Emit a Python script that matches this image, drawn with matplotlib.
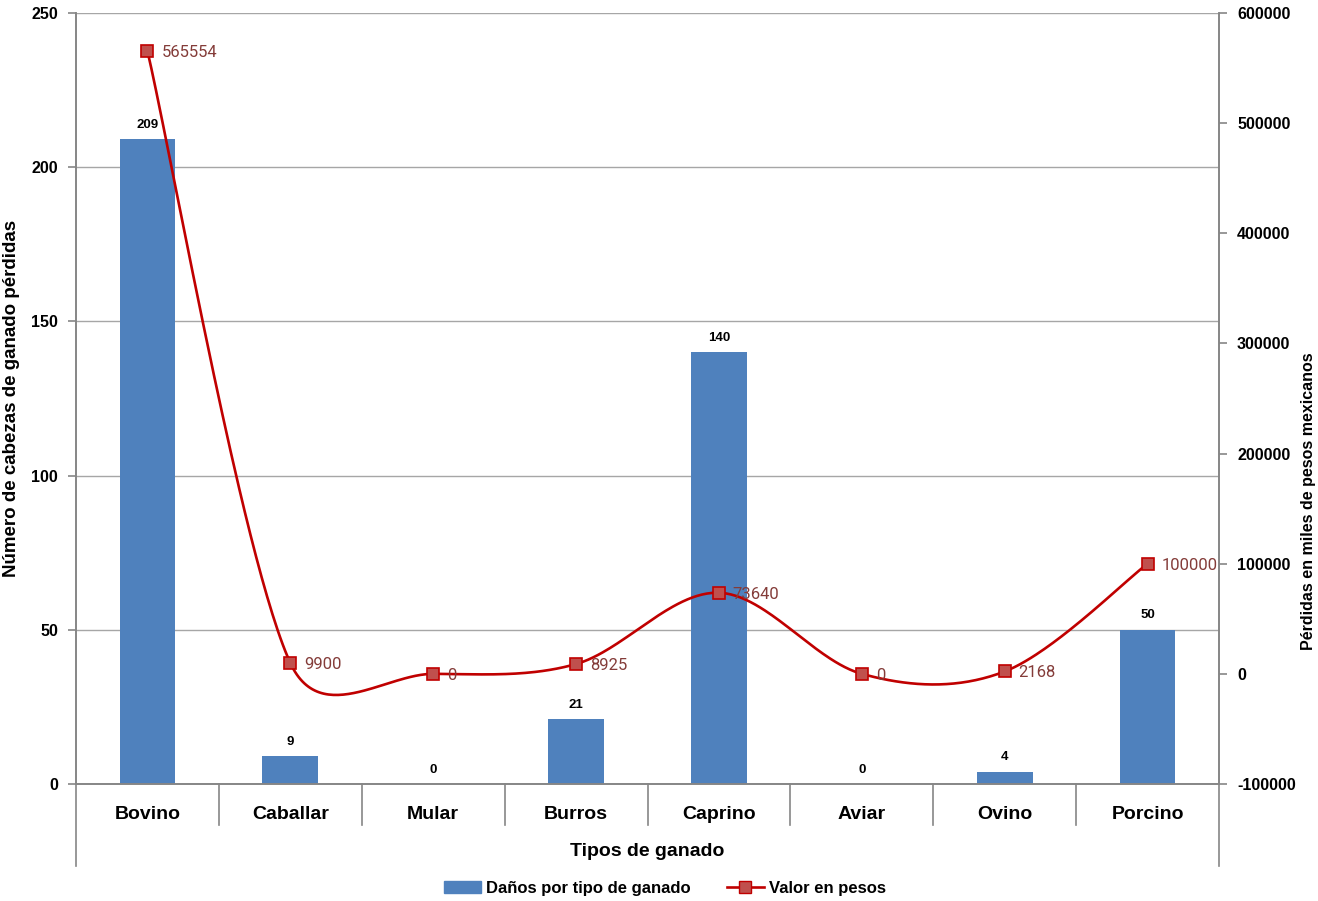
import numpy as np
import matplotlib
matplotlib.use("Agg")
import matplotlib.pyplot as plt
import matplotlib.transforms as mtransforms
from matplotlib.patches import Patch
from matplotlib.lines import Line2D

plt.rcParams['font.family'] = ['Liberation Sans Narrow', 'Liberation Sans', 'DejaVu Sans']
plt.rcParams['axes.unicode_minus'] = False

tipos = ['Bovino', 'Caballar', 'Mular', 'Burros', 'Caprino', 'Aviar', 'Ovino', 'Porcino']
cabezas = [209, 9, 0, 21, 140, 0, 4, 50]
valor_pesos = [565554, 9900, 0, 8925, 73640, 0, 2168, 100000]

BLUE = '#4F81BD'
RED = '#C00000'
GRID = '#A6A6A6'
SPINE = '#868686'

fig = plt.figure(figsize=(13.18, 9.01), dpi=100)
ax = fig.add_axes([76/1318, 117/901, (1219-76)/1318, (784-13)/901])
ax2 = ax.twinx()

x = np.arange(len(tipos))
bars = ax.bar(x, cabezas, width=0.39, color=BLUE, zorder=2)
ax.set_xlim(-0.5, len(tipos) - 0.5)
ax.set_ylim(0, 250)
ax.set_yticks(range(0, 251, 50))
ax.yaxis.grid(True, color=GRID, lw=1)
ax.set_axisbelow(True)
for b, v in zip(bars, cabezas):
    ax.annotate(str(v), (b.get_x() + b.get_width()/2, v), xytext=(0, 6),
                textcoords='offset points', ha='center', va='bottom',
                fontsize=9.5, fontweight='bold')

ax2.set_ylim(-100000, 600000)
ax2.set_yticks(range(-100000, 600001, 100000))

for a in (ax, ax2):
    a.spines['top'].set_visible(False)
    for s in ('left', 'right', 'bottom'):
        a.spines[s].set_color(SPINE)
        a.spines[s].set_linewidth(1.2)
    a.tick_params(axis='y', colors='black', labelsize=11.5, length=6, color=SPINE,
                  width=1.2, pad=7)
    for lbl in a.get_yticklabels():
        lbl.set_fontweight('bold')

ax.set_xticks(x)
ax.set_xticklabels(tipos, fontsize=14, fontweight='bold')
ax.tick_params(axis='x', length=0, pad=16)

# separadores de categoria bajo el eje
trans = mtransforms.blended_transform_factory(ax.transData, ax.transAxes)
for xs in np.arange(0.5, len(tipos) - 0.5):
    ax.plot([xs, xs], [0, -41/771], transform=trans, color=SPINE, lw=1.2, clip_on=False)
for xs in (-0.5, len(tipos) - 0.5):
    ax.plot([xs, xs], [0, -82/771], transform=trans, color=SPINE, lw=1.2, clip_on=False)

# curva suavizada (Bezier tipo Catmull-Rom en coordenadas de pantalla)
fig.canvas.draw()
pts = ax2.transData.transform(np.column_stack([x, valor_pesos]))
n = len(pts)
curve = []
for i in range(n - 1):
    p0 = pts[max(i - 1, 0)]
    p1 = pts[i]
    p2 = pts[i + 1]
    p3 = pts[min(i + 2, n - 1)]
    seg = np.linalg.norm(p2 - p1)
    d1 = (p2 - p0) / 6
    d2 = (p3 - p1) / 6
    for d in (d1, d2):
        ln = np.linalg.norm(d)
        if ln > 0.5 * seg:
            d *= 0.5 * seg / ln
    c1 = p1 + d1
    c2 = p2 - d2
    t = np.linspace(0, 1, 60)[:, None]
    b = (1-t)**3*p1 + 3*(1-t)**2*t*c1 + 3*(1-t)*t**2*c2 + t**3*p2
    curve.append(b if i == 0 else b[1:])
curve = ax2.transData.inverted().transform(np.vstack(curve))
ax2.plot(curve[:, 0], curve[:, 1], color=RED, lw=1.9, zorder=3)
ax2.plot(x, valor_pesos, ls='none', marker='s', ms=8, mfc='#C0504D', mec=RED, mew=1.2, zorder=4)
for xi, v in zip(x, valor_pesos):
    ax2.annotate(str(v), (xi, v), xytext=(10, -1), textcoords='offset points',
                 ha='left', va='center', fontsize=12, color='#843C39',
                 family=['Roboto', 'DejaVu Sans'], zorder=5)

ax.set_ylabel('Número de cabezas de ganado pérdidas', fontsize=13.5, fontweight='bold', labelpad=8)
fig.text(1316/1318, 400/901, 'Pérdidas en miles de pesos mexicanos', rotation=90,
         ha='right', va='center', fontsize=11.5, fontweight='bold')
fig.text(647/1318, 1 - 852/901, 'Tipos de ganado', ha='center', va='center',
         fontsize=14, fontweight='bold')

handles = [Patch(color=BLUE),
           Line2D([], [], color=RED, lw=1.9, marker='s', ms=8, mfc='#C0504D', mec=RED)]
fig.legend(handles, ['Daños por tipo de ganado', 'Valor en pesos'], loc='center',
           bbox_to_anchor=(665/1318, 1 - 888/901), ncol=2, frameon=False,
           prop={'size': 12, 'weight': 'bold'}, handlelength=2.2, columnspacing=2.2,
           handletextpad=0.3)

fig.savefig('out.png', dpi=100)
